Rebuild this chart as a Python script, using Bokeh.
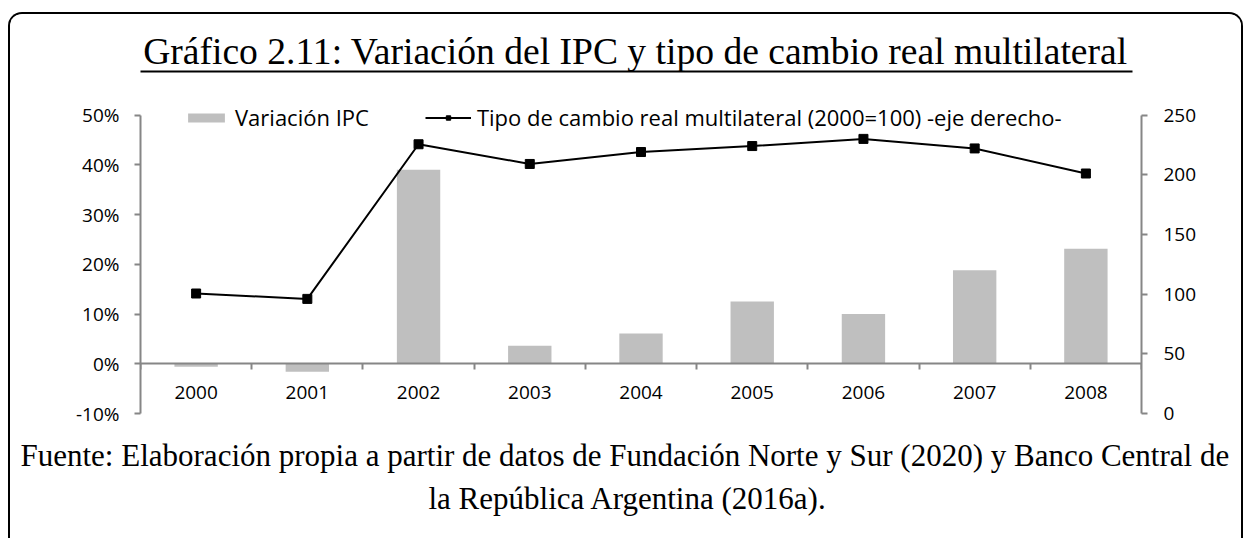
from bokeh.plotting import figure
from bokeh.models import (Range1d, LinearAxis, FixedTicker, Legend, LegendItem,
                          Label, BoxAnnotation, ColumnDataSource, Title)
from bokeh.embed import file_html
from bokeh.resources import INLINE

# ---------------- data ----------------
years = ["2000", "2001", "2002", "2003", "2004", "2005", "2006", "2007", "2008"]
ipc_var = [-0.6, -1.6, 39.0, 3.6, 6.1, 12.5, 10.0, 18.8, 23.1]          # %
tcrm = [100.5, 96.0, 225.5, 209.0, 219.0, 224.0, 230.0, 222.0, 201.0]   # 2000=100
left_ticks = [-10, 0, 10, 20, 30, 40, 50]
right_ticks = [0, 50, 100, 150, 200, 250]
legend_labels = ["Variación IPC",
                 "Tipo de cambio real multilateral (2000=100) -eje derecho-"]
title_text = "Gráfico 2.11: Variación del IPC y tipo de cambio real multilateral"
caption_1 = ("Fuente: Elaboración propia a partir de datos de Fundación Norte y Sur "
             "(2020) y Banco Central de")
caption_2 = "la República Argentina (2016a)."

# ---------------- styles / layout (pixels) ----------------
SANS = "Open Sans"
SERIF = "Liberation Serif"
AXIS_GRAY = "#868686"
BAR_GRAY = "#BFBFBF"

W, H = 1231, 524            # canvas size (inside the CSS frame border)
LEFT, RIGHT = 130, 1127     # plot frame left / right edge on canvas
Y_TOPTICK = 100.0           # canvas y of the top tick (50 % / 250)
Y_BOTTICK = 397.0           # canvas y of the bottom tick (-10 % / 0), frame bottom
frame_h = Y_BOTTICK         # frame spans from canvas top to bottom tick
k_left = (Y_BOTTICK - Y_TOPTICK) / (left_ticks[-1] - left_ticks[0])
k_right = (Y_BOTTICK - Y_TOPTICK) / (right_ticks[-1] - right_ticks[0])

n = len(years)
centers = [i + 0.5 for i in range(n)]
bounds = list(range(n + 1))

src = ColumnDataSource(dict(x=centers, ipc=ipc_var, tcrm=tcrm, year=years))

p = figure(width=W, height=H, output_backend="svg", toolbar_location=None,
           x_range=Range1d(0, n),
           y_range=Range1d(left_ticks[0], left_ticks[0] + frame_h / k_left),
           min_border_left=LEFT, min_border_right=W - RIGHT,
           min_border_top=0, min_border_bottom=round(H - Y_BOTTICK))
p.outline_line_color = None
p.xgrid.visible = False
p.ygrid.visible = False
p.styles = {"margin-left": "8px", "margin-top": "12px",
            "box-sizing": "content-box",
            "border-left": "2px solid black", "border-top": "2px solid black",
            "border-right": "2px solid black",
            "border-top-left-radius": "14px", "border-top-right-radius": "14px",
            "overflow": "hidden"}

p.extra_y_ranges = {"r": Range1d(right_ticks[0], right_ticks[0] + frame_h / k_right)}

# x axis drawn at 0 %
xa = p.xaxis[0]
xa.fixed_location = 0
xa.ticker = FixedTicker(ticks=centers, minor_ticks=bounds)
xa.major_label_overrides = {c: y for c, y in zip(centers, years)}
xa.major_tick_line_color = None
xa.major_tick_out = 0
xa.major_tick_in = 0
xa.minor_tick_line_color = AXIS_GRAY
xa.minor_tick_out = 6
xa.minor_tick_in = 0
xa.minor_tick_line_width = 2
xa.axis_line_color = AXIS_GRAY
xa.axis_line_width = 2
xa.major_label_standoff = 16
xa.major_label_text_font = SANS
xa.major_label_text_font_size = "19px"
xa.major_label_text_color = "black"

ya = p.yaxis[0]
ya.bounds = (left_ticks[0], left_ticks[-1])
ya.ticker = FixedTicker(ticks=left_ticks, minor_ticks=[])
ya.major_label_overrides = {t: f"{t}%" for t in left_ticks}
ya.axis_line_color = AXIS_GRAY
ya.axis_line_width = 2
ya.major_tick_line_color = AXIS_GRAY
ya.major_tick_line_width = 2
ya.major_tick_out = 6
ya.major_tick_in = 0
ya.minor_tick_line_color = None
ya.major_label_standoff = 15
ya.major_label_text_font = SANS
ya.major_label_text_font_size = "19px"
ya.major_label_text_color = "black"

yr = LinearAxis(y_range_name="r", bounds=(right_ticks[0], right_ticks[-1]),
                ticker=FixedTicker(ticks=right_ticks, minor_ticks=[]))
yr.axis_line_color = AXIS_GRAY
yr.axis_line_width = 2
yr.major_tick_line_color = AXIS_GRAY
yr.major_tick_line_width = 2
yr.major_tick_out = 6
yr.major_tick_in = 0
yr.minor_tick_line_color = None
yr.major_label_standoff = 16
yr.major_label_text_font = SANS
yr.major_label_text_font_size = "19px"
yr.major_label_text_color = "black"
p.add_layout(yr, "right")

# ---------------- glyphs ----------------
bars = p.vbar(x="x", top="ipc", bottom=0, width=0.39, source=src,
              fill_color=BAR_GRAY, line_color=None)
ln = p.line(x="x", y="tcrm", source=src, y_range_name="r",
            line_color="black", line_width=2)
mk = p.scatter(x="x", y="tcrm", source=src, y_range_name="r", marker="square",
               size=9, fill_color="black", line_color="black")

legend = Legend(items=[LegendItem(label=legend_labels[0], renderers=[bars]),
                       LegendItem(label=legend_labels[1], renderers=[ln, mk])],
                orientation="horizontal", location=(43, 281),
                border_line_color=None, background_fill_alpha=0,
                padding=0, margin=0, spacing=56, glyph_width=46, glyph_height=11,
                label_standoff=6, label_text_font=SANS, label_text_font_size="22px",
                label_text_color="black")
p.add_layout(legend)

# ---------------- title (inside the frame area, canvas units from top) ----------------
p.add_layout(Label(x=623, y=35, x_units="canvas", y_units="canvas", text=title_text,
                   text_align="center", text_baseline="alphabetic",
                   text_font=SERIF, text_font_size="37.6px", text_color="black"))
p.add_layout(BoxAnnotation(left=126, right=1120, top=54, bottom=56,
                           left_units="canvas", right_units="canvas",
                           top_units="canvas", bottom_units="canvas",
                           fill_color="black", fill_alpha=1, line_color=None))

# ---------------- caption (below panel) ----------------
p.add_layout(Title(text=caption_1, align="left", offset=-120, standoff=44,
                   text_font=SERIF, text_font_size="31px",
                   text_font_style="normal", text_color="black"), "below")
p.add_layout(Title(text=caption_2, align="left", offset=288, standoff=-28,
                   vertical_align="top",
                   text_font=SERIF, text_font_size="31px",
                   text_font_style="normal", text_color="black"), "below")

open("out.html", "w").write(file_html(p, INLINE))
